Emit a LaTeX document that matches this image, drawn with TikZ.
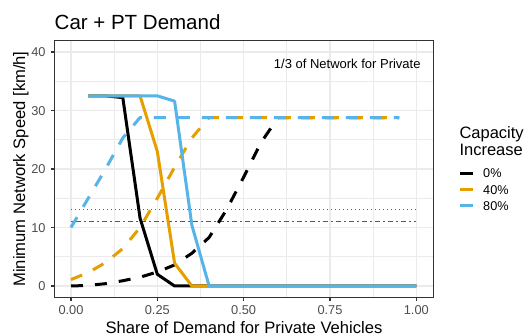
\documentclass[tikz,border=0pt]{standalone}
\usepackage{fontspec}
\setmainfont{Liberation Sans}
\definecolor{cOr}{HTML}{E69F00}
\definecolor{cBl}{HTML}{56B4E9}
\definecolor{cGrid}{HTML}{EBEBEB}
\definecolor{cAxis}{HTML}{333333}
\definecolor{cTick}{HTML}{4D4D4D}
\tikzset{
  gridmaj/.style={draw=cGrid, line width=1.5pt},
  gridmin/.style={draw=cGrid, line width=0.8pt},
  dataline/.style={line width=3pt, line join=round},
  dashline/.style={line width=3pt, line join=round, dash pattern=on 12pt off 12pt},
  ticktxt/.style={text=cTick, font=\fontsize{12.8}{14}\selectfont, inner sep=0pt},
  tickmark/.style={draw=cAxis, line width=1.2pt},
  legtxt/.style={font=\fontsize{12.7}{14}\selectfont, inner sep=0pt, anchor=base west},
  legttl/.style={font=\fontsize{16.5}{18}\selectfont, inner sep=0pt, anchor=base west},
}
\begin{document}
\begin{tikzpicture}[x=1pt, y=-1pt]
\useasboundingbox[fill=white] (0,0) rectangle (528,336);
% data scope
\begin{scope}[shift={(71pt,-286pt)}, x=345.3pt, y=5.85pt]
  \foreach \gx in {0.125,0.375,0.625,0.875} \draw[gridmin] (\gx,-1.93) -- (\gx,41.93);
  \foreach \gy in {5,15,25,35} \draw[gridmin] (-0.047,\gy) -- (1.049,\gy);
  \foreach \gx in {0,0.25,0.5,0.75,1} \draw[gridmaj] (\gx,-1.93) -- (\gx,41.93);
  \foreach \gy in {0,10,20,30,40} \draw[gridmaj] (-0.047,\gy) -- (1.049,\gy);
  % reference lines
  \draw[draw=gray!75!black, line width=1pt, dash pattern=on 1.3pt off 2.7pt] (0,13) -- (1,13);
  \draw[draw=gray!70!black, line width=1.5pt, dash pattern=on 1.5pt off 3pt on 5.5pt off 3pt] (0,11) -- (1,11);
  % dashed curves
  \draw[dashline, black] plot coordinates {(0,0) (0.05,0.1) (0.1,0.4) (0.15,0.9) (0.2,1.5) (0.25,2.4) (0.3,3.6) (0.35,5.6) (0.4,8.3) (0.45,13) (0.5,18.6) (0.55,24.5) (0.6,28.8) (0.65,28.8) (0.7,28.8) (0.75,28.8) (0.8,28.8) (0.85,28.8) (0.9,28.8) (0.95,28.8)};
  \draw[dashline, cOr] plot coordinates {(0,1.1) (0.05,2.3) (0.1,4) (0.15,6.4) (0.2,10) (0.25,15) (0.3,20.3) (0.35,25.3) (0.4,28.8) (0.45,28.8) (0.5,28.8) (0.55,28.8) (0.6,28.8) (0.65,28.8) (0.7,28.8) (0.75,28.8) (0.8,28.8) (0.85,28.8) (0.9,28.8) (0.95,28.8)};
  \draw[dashline, cBl] plot coordinates {(0,10) (0.05,15) (0.1,20) (0.15,25.3) (0.2,28.8) (0.25,28.8) (0.3,28.8) (0.35,28.8) (0.4,28.8) (0.45,28.8) (0.5,28.8) (0.55,28.8) (0.6,28.8) (0.65,28.8) (0.7,28.8) (0.75,28.8) (0.8,28.8) (0.85,28.8) (0.9,28.8) (0.95,28.8)};
  % solid curves
  \draw[dataline, black] plot coordinates {(0.05,32.5) (0.1,32.5) (0.15,32.2) (0.2,11.6) (0.25,2.0) (0.3,0) (1,0)};
  \draw[dataline, cOr] plot coordinates {(0.05,32.5) (0.1,32.5) (0.15,32.5) (0.2,32.5) (0.25,23) (0.3,3.9) (0.35,0) (1,0)};
  \draw[dataline, cBl] plot coordinates {(0.05,32.5) (0.1,32.5) (0.15,32.5) (0.2,32.5) (0.25,32.5) (0.3,31.6) (0.35,10.4) (0.4,0) (1,0)};
  \node[font=\fontsize{13}{15}\selectfont, inner sep=0pt] (ann) at (0.8,38) {1/3 of Network for Private};
  % ticks
  \foreach \gx/\lab in {0/0.00,0.25/0.25,0.5/0.50,0.75/0.75,1/1.00} {
    \draw[tickmark] (\gx,-1.93) -- ++(0,-4pt);
    \node[ticktxt, anchor=base] (xt\lab) at ([yshift=-28.7pt]\gx,0) {\lab};
  }
  \foreach \gy in {0,10,20,30,40} {
    \draw[tickmark] (-0.047,\gy) -- ++(-4pt,0);
    \node[ticktxt, anchor=base east] (yt\gy) at ([xshift=-9pt, yshift=-4.6pt]-0.047,\gy) {\gy};
  }
\end{scope}
% panel border
\draw[draw=cAxis, line width=1.2pt] (54.8,40.7) rectangle (433.3,297.5);
% titles
\node[font=\fontsize{20.5}{24}\selectfont, inner sep=0pt, anchor=base west] (title) at (54.5,30) {Car + PT Demand};
\node[font=\fontsize{16.6}{19}\selectfont, inner sep=0pt, anchor=base] (xlab) at (244,333.5) {Share of Demand for Private Vehicles};
\node[font=\fontsize{16.6}{19}\selectfont, inner sep=0pt, anchor=base, rotate=90] (ylab) at (25,169) {Minimum Network Speed [km/h]};
% legend
\node[legttl] (lt1) at (459.3,138.7) {Capacity};
\node[legttl] (lt2) at (459.3,156) {Increase};
\coordinate (k1a) at (460,173.3); \coordinate (k1b) at (473.3,173.3);
\coordinate (k2a) at (460,189.5); \coordinate (k2b) at (473.3,189.5);
\coordinate (k3a) at (460,205.7); \coordinate (k3b) at (473.3,205.7);
\draw[line width=3pt, black] (k1a) -- (k1b);
\draw[line width=3pt, cOr] (k2a) -- (k2b);
\draw[line width=3pt, cBl] (k3a) -- (k3b);
\node[legtxt] (l1) at (483,178) {0\%};
\node[legtxt] (l2) at (483,194.2) {40\%};
\node[legtxt] (l3) at (483,210.4) {80\%};
\end{tikzpicture}
\end{document}
